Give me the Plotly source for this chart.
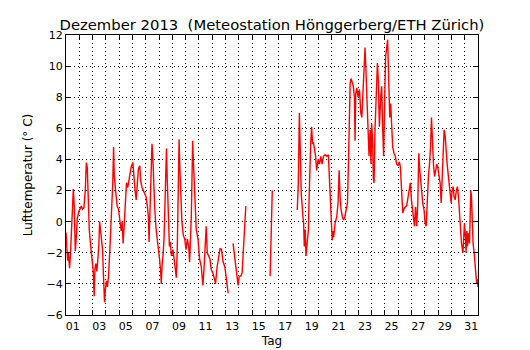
import plotly.graph_objects as go

# time in days since 1 Dec 00:00 ; None marks gaps in the record
days = [
    0.00, 0.04, 0.08, 0.12, 0.18, 0.27, 0.33, 0.40, 0.47, 0.55, 0.62, 0.70, 0.76, 0.85, 0.95,
    1.05, 1.15, 1.25, 1.35, 1.45, 1.53, 1.60, 1.68, 1.75, 1.85, 1.95,
    2.05, 2.12, 2.18, 2.25, 2.32, 2.40, 2.47, 2.53, 2.60, 2.68, 2.75, 2.82, 2.90, 2.97,
    3.05, 3.12, 3.20, 3.30, 3.42, 3.52, 3.58, 3.63, 3.72, 3.85, 3.95,
    4.05, 4.15, 4.22, 4.30, 4.38, 4.45, 4.55, 4.65, 4.78, 4.90,
    5.03, 5.12, 5.20, 5.28, 5.35, 5.45, 5.55, 5.62, 5.72, 5.82, 5.92,
    6.02, 6.12, 6.20, 6.25, 6.30, 6.38, 6.47, 6.53, 6.60, 6.68, 6.78, 6.88, 6.97,
    7.05, 7.12, 7.17, 7.23, 7.30, 7.38, 7.45, 7.52, 7.56, 7.62, 7.70, 7.78, 7.85, 7.93,
    8.05, 8.15, 8.25, 8.30, 8.37, 8.43, 8.51, 8.56, 8.63, 8.72, 8.83, 8.93,
    9.03, 9.13, 9.23, 9.30, 9.43, 9.53, 9.58, 9.68, 9.80, 9.93,
    10.05, 10.18, 10.30, 10.38, 10.48, 10.55, 10.63, 10.73, 10.83, 10.93,
    11.05, 11.18, 11.25, 11.37, 11.48, 11.60, 11.70, 11.82, 11.95,
    12.05, 12.12, 12.20, 12.40,
    12.57, 12.65, 12.80, 12.88, 12.95, 13.03, 13.15, 13.25, 13.35, 13.45, 13.53, 14.40,
    15.36, 15.42, 15.47, 15.52, 16.50,
    17.40, 17.48, 17.56, 17.62, 17.70, 17.83, 17.88, 17.93,
    18.00, 18.06, 18.15, 18.24, 18.30, 18.36, 18.42, 18.48, 18.55, 18.62, 18.71, 18.78, 18.86, 18.97,
    19.07, 19.17, 19.27, 19.37, 19.50, 19.62, 19.74, 19.80, 19.87, 19.93,
    20.03, 20.08, 20.14, 20.25, 20.37, 20.47, 20.55, 20.62, 20.70, 20.80, 20.88, 20.98,
    21.08, 21.18, 21.25, 21.32, 21.38, 21.45, 21.55, 21.62, 21.70, 21.75, 21.80, 21.88, 21.98,
    22.08, 22.18, 22.26, 22.33, 22.43, 22.50, 22.57, 22.65, 22.73, 22.80, 22.88, 22.95,
    23.00, 23.07, 23.13, 23.18, 23.25, 23.33, 23.43, 23.50, 23.58, 23.68, 23.75, 23.83, 23.90, 23.98,
    24.05, 24.13, 24.20, 24.28, 24.36, 24.43, 24.50, 24.58, 24.68, 24.78, 24.88, 24.98,
    25.08, 25.16, 25.21, 25.29, 25.34, 25.44, 25.54, 25.64, 25.74, 25.84, 25.91, 25.99,
    26.07, 26.15, 26.22, 26.30, 26.39, 26.47, 26.54, 26.62, 26.69, 26.77, 26.84, 26.94,
    27.02, 27.10, 27.20, 27.27, 27.35, 27.43, 27.50, 27.58, 27.65, 27.73, 27.82, 27.90, 27.97,
    28.05, 28.15, 28.23, 28.30, 28.38, 28.45, 28.53, 28.60, 28.68, 28.75, 28.83, 28.90, 28.98,
    29.05, 29.13, 29.20, 29.28, 29.37, 29.45, 29.53, 29.61, 29.68, 29.76, 29.87, 29.93, 29.98,
    30.06, 30.10, 30.16, 30.21, 30.28, 30.36, 30.41, 30.46, 30.51, 30.56, 30.63, 30.71, 30.78,
    30.86, 30.90, 30.95, 31.00,
]

temps = [
    -0.7, -1.8, -1.5, -2.5, -2.0, -3.0, -2.2, -1.0, 0.8, 2.1, 1.0, -1.9, -1.2, 0.2, 0.6,
    0.8, 1.0, 0.8, 0.9, 2.0, 3.8, 3.5, 1.5, -0.5, -1.5, -2.3,
    -3.2, -4.8, -3.0, -2.7, -3.2, -2.4, -1.5, 0.0, -0.6, -1.0, -1.8, -3.5, -5.2, -4.3,
    -3.8, -4.2, -3.5, -1.8, 0.3, 2.5, 4.8, 3.0, 2.1, 1.0, 0.8,
    0.2, -0.6, 0.0, -1.4, -0.2, 1.2, 2.5, 2.2, 3.0, 3.5,
    3.8, 2.6, 2.0, 1.4, 2.5, 3.4, 3.6, 2.6, 2.2, 2.0, 1.8,
    1.6, 1.0, 0.3, -1.3, 0.6, 3.0, 5.0, 4.2, 2.0, 0.8, -0.5, -1.2, -1.6,
    -2.5, -3.2, -4.0, -2.8, -2.2, -1.0, 1.4, 3.5, 4.7, 2.7, 0.0, -1.6, -1.3, -2.2,
    -1.8, -2.6, -3.0, -3.6, -1.8, 1.0, 5.3, 3.6, 1.9, 0.0, -0.9, -1.1,
    -1.8, -1.1, -1.6, -2.6, 0.4, 5.2, 4.0, 1.4, -0.5, -1.1,
    -2.4, -2.9, -4.1, -3.1, -1.8, -0.3, -2.0, -2.2, -2.4, -3.1,
    -3.3, -3.7, -4.0, -2.9, -2.4, -1.7, -1.8, -2.6, -2.9,
    -3.5, -4.0, -4.6, None,
    -1.4, -2.0, -3.3, -3.7, -4.1, -3.5, -3.5, -3.3, -1.8, 0.0, 1.0, None,
    -3.5, -1.0, 1.0, 2.0, None,
    0.75, 2.5, 7.0, 4.8, 1.8, 0.3, -0.1, -1.6,
    -0.5, -2.2, -1.0, -0.5, 1.8, 5.0, 5.2, 6.1, 5.0, 5.1, 4.6, 4.2, 3.3, 4.0,
    3.7, 4.2, 3.7, 4.2, 4.3, 4.2, 4.3, 3.1, 1.6, 0.75,
    -1.2, -0.6, -1.0, -0.1, 0.3, 1.2, 3.3, 1.6, 0.75, 0.3, 0.1, 0.3,
    0.75, 1.2, 3.7, 7.0, 8.9, 9.2, 8.9, 8.7, 8.0, 5.2, 8.2, 8.6, 8.0,
    8.5, 7.0, 6.7, 8.0, 10.2, 11.2, 9.7, 8.0, 6.3, 4.2, 5.9, 3.7,
    6.3, 5.2, 2.7, 2.5, 5.9, 8.0, 10.2, 9.1, 6.1, 8.0, 8.7, 5.9, 4.2, 8.0,
    10.6, 11.2, 11.7, 9.1, 6.7, 7.6, 6.3, 4.8, 4.4, 4.2, 3.7, 3.6,
    3.85, 3.5, 2.7, 1.6, 0.55, 0.85, 0.95, 1.05, 1.6, 2.25, 2.5, 1.4,
    0.75, 0.1, -0.3, 0.95, -0.3, 1.2, 4.4, 3.3, 2.5, 2.0, 1.2, 0.75,
    -0.1, -0.3, 2.5, 2.9, 3.7, 4.8, 6.7, 4.2, 3.7, 2.9, 3.3, 3.7, 3.5,
    2.9, 2.5, 1.2, 3.1, 4.8, 5.9, 5.5, 4.2, 3.7, 3.1, 2.5, 1.6, 1.2,
    2.0, 2.25, 1.6, 1.4, 2.0, 2.25, 1.6, 0.3, -0.5, -1.4, -2.0, -0.5, -0.1,
    -1.0, -2.0, -0.6, -1.6, -0.75, -1.4, 0.3, 2.0, 1.6, -0.5, -1.4, -2.0, -2.7,
    -3.5, -4.0, -3.7, -4.2,
]

day_labels = ["%02d" % d for d in range(1, 32, 2)]
day_label_pos = [d - 0.5 for d in range(1, 32, 2)]
day_bounds = list(range(0, 32))
y_ticks = list(range(-6, 13, 2))

FONT = "DejaVu Sans"

fig = go.Figure()
fig.add_trace(go.Scatter(x=days, y=temps, mode="lines",
                         line=dict(color="#ff0000", width=1.4),
                         connectgaps=False, showlegend=False, hoverinfo="skip"))
# helper trace so that the label axis is drawn
fig.add_trace(go.Scatter(x=[None], y=[None], xaxis="x2", yaxis="y",
                         showlegend=False, hoverinfo="skip"))

grid_dash = "1px,3px"
fig.update_layout(
    width=530, height=350,
    margin=dict(l=66, r=52, t=35, b=35, autoexpand=False),
    paper_bgcolor="white", plot_bgcolor="white",
    font=dict(family=FONT, size=12, color="black"),
    hovermode=False,
    title=dict(text="Dezember 2013  (Meteostation Hönggerberg/ETH Zürich)",
               x=0.513, xanchor="center", y=0.93, yanchor="middle",
               font=dict(family=FONT, size=14.8, color="black")),
    xaxis=dict(range=[0, 31], tickmode="array", tickvals=day_bounds,
               ticktext=["" for _ in day_bounds],
               ticks="inside", ticklen=5, tickcolor="black", tickwidth=1,
               showgrid=True, gridcolor="black", gridwidth=1, griddash=grid_dash,
               showline=True, linecolor="black", linewidth=1.2, mirror="ticks",
               zeroline=False),
    xaxis2=dict(range=[0, 31], overlaying="x", anchor="y", side="bottom",
                tickmode="array", tickvals=day_label_pos, ticktext=day_labels,
                ticks="", showgrid=False, showline=False, zeroline=False,
                ticklabelstandoff=3,
                tickfont=dict(family=FONT, size=11, color="black"),
                title=dict(text="Tag", standoff=4,
                           font=dict(family=FONT, size=12, color="black"))),
    yaxis=dict(range=[-6, 12], tickmode="array", tickvals=y_ticks,
               ticks="inside", ticklen=5, tickcolor="black", tickwidth=1,
               showgrid=True, gridcolor="black", gridwidth=1, griddash=grid_dash,
               showline=True, linecolor="black", linewidth=1.2, mirror="ticks",
               zeroline=False,
               tickfont=dict(family=FONT, size=11, color="black"),
               title=dict(text="Lufttemperatur (° C)", standoff=11,
                          font=dict(family=FONT, size=12, color="black"))),
)

fig.write_html("out.html", config={"displayModeBar": False},
               post_script="document.body.style.margin='0';document.body.style.overflow='hidden';")
